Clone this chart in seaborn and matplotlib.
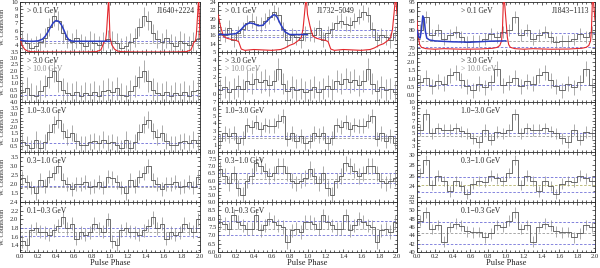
import numpy as np
import pandas as pd
import matplotlib
matplotlib.use("Agg")
import matplotlib.pyplot as plt
from matplotlib.ticker import MultipleLocator, AutoMinorLocator, FuncFormatter
import seaborn as sns

# ---------- data (one rotation, drawn twice) ----------
energy_labels = ["> 0.1 GeV", "> 3.0 GeV", "1.0\u22123.0 GeV", "0.3\u22121.0 GeV", "0.1\u22120.3 GeV"]
pulsars = ["J1640+2224", "J1732\u22125049", "J1843\u22121113"]

# J1640+2224, 20 bins per rotation
j1640_all = [4.6, 4.3, 3.6, 3.9, 4.4, 5.0, 6.5, 8.0, 7.4, 5.6, 4.8, 4.4, 4.9, 4.2, 3.9, 4.6, 4.3, 4.0, 4.5, 4.8]
j1640_3gev = [0.3, 0.6, 0.1, 0.0, 0.4, 0.8, 1.5, 2.0, 1.2, 0.5, 0.2, 0.1, 0.3, 0.0, 0.2, 0.1, 0.3, 0.0, 0.4, 0.5]
j1640_1to3 = [0.8, 0.6, 0.3, 1.0, 0.3, 0.8, 1.6, 2.2, 2.6, 1.7, 1.2, 1.5, 0.9, 0.6, 0.6, 0.8, 0.9, 0.7, 1.0, 0.7]
j1640_03to1 = [2.3, 2.1, 1.8, 1.5, 2.2, 1.9, 2.4, 2.6, 3.0, 2.2, 2.0, 1.7, 2.0, 2.0, 2.1, 1.8, 1.9, 2.1, 1.8, 2.4]
j1640_01to03 = [1.5, 1.42, 1.75, 1.8, 1.72, 1.7, 1.65, 1.75, 1.85, 2.05, 1.8, 1.9, 1.55, 1.7, 1.65, 1.7, 1.9, 1.8, 1.72, 2.0]

# J1732-5049, 20 bins per rotation
j1732_all = [16.5, 16.2, 17.8, 15.0, 16.5, 17.5, 19.0, 19.5, 18.8, 18.5, 19.5, 20.5, 21.5, 21.0, 17.5, 15.0, 16.0, 15.5, 14.8, 16.5]
j1732_3gev = [0.4, 0.8, 0.2, 0.6, 0.9, 0.5, 1.5, 1.2, 1.8, 1.4, 1.6, 1.0, 1.5, 3.0, 1.2, 0.3, 0.8, 0.4, 0.6, 0.2]
j1732_1to3 = [1.5, 2.6, 2.3, 2.7, 1.3, 2.0, 3.8, 3.5, 4.2, 3.2, 3.8, 3.6, 3.7, 4.3, 5.0, 1.8, 2.6, 1.5, 2.2, 1.3]
j1732_03to1 = [6.8, 6.3, 5.8, 6.5, 5.5, 5.0, 6.0, 6.3, 7.2, 7.0, 6.7, 6.3, 6.5, 7.0, 7.0, 6.5, 6.0, 5.8, 6.0, 6.2]
j1732_01to03 = [7.8, 7.7, 7.4, 8.2, 7.8, 7.6, 7.4, 7.4, 8.2, 7.3, 7.6, 8.0, 7.8, 7.6, 7.5, 6.6, 7.3, 7.4, 7.2, 7.8]

# J1843-1113, 15 bins per rotation
j1843_all = [80.0, 87.0, 77.0, 80.0, 75.0, 77.0, 79.0, 76.0, 73.5, 74.0, 74.0, 75.0, 77.5, 76.0, 79.0]
j1843_3gev = [0.8, 1.05, 0.55, 0.85, 0.7, 1.2, 1.4, 0.9, 0.55, 0.3, 0.7, 0.5, 0.8, 1.6, 0.6]
j1843_1to3 = [5.5, 8.0, 5.0, 5.8, 5.5, 5.6, 5.8, 5.3, 5.0, 4.2, 3.6, 5.6, 4.0, 5.2, 5.0]
j1843_03to1 = [26.5, 29.0, 24.2, 26.0, 25.0, 23.0, 25.0, 24.0, 22.5, 24.5, 25.0, 24.8, 26.0, 25.5, 25.0]
j1843_01to03 = [47.5, 49.5, 45.5, 46.5, 42.5, 46.0, 46.8, 46.3, 45.0, 44.7, 44.8, 43.5, 44.5, 46.5, 46.0]

# typical error bar half-length per panel (top to bottom)
j1640_err = [1.3, 0.9, 0.65, 0.38, 0.15]
j1732_err = [1.8, 1.3, 1.0, 0.55, 0.4]
j1843_err = [3.2, 0.45, 0.9, 1.0, 1.3]

# dashed background levels per panel
j1640_levels = [[4.6, 4.2], [0.1], [0.75], [1.9, 1.8], [1.8, 1.7, 1.62]]
j1732_levels = [[17.2, 16.2, 15.5], [0.5], [2.2, 2.0], [6.5, 6.1, 5.8], [7.85, 7.4, 7.05]]
j1843_levels = [[78.5, 74.0, 70.5], [0.65], [5.0, 4.6], [25.7, 24.2, 22.9], [47.3, 44.5, 42.0]]

# fitted light curve (> 0.1 GeV), one rotation
j1640_fit_phase = [0, 0.05, 0.1, 0.15, 0.2, 0.25, 0.28, 0.31, 0.34, 0.37, 0.4, 0.43, 0.46, 0.49, 0.52, 0.55, 0.6, 0.8, 1.0]
j1640_fit = [4.7, 4.55, 4.5, 4.5, 4.55, 4.8, 5.2, 5.8, 6.5, 7.1, 7.4, 7.3, 6.8, 6.0, 5.1, 4.6, 4.5, 4.5, 4.5]
j1732_fit_phase = [0, 0.1, 0.2, 0.25, 0.3, 0.35, 0.4, 0.45, 0.5, 0.55, 0.6, 0.63, 0.66, 0.7, 0.75, 0.8, 0.9, 1.0]
j1732_fit = [16.2, 16.2, 16.4, 17.2, 18.4, 19.0, 18.8, 18.3, 18.4, 19.5, 20.6, 21.0, 20.4, 18.6, 16.8, 16.2, 16.2, 16.2]
j1843_fit_phase = [0, 0.02, 0.035, 0.05, 0.065, 0.08, 0.095, 0.11, 0.14, 0.2, 0.4, 0.6, 0.8, 1.0]
j1843_fit = [80.0, 76.0, 75.5, 80.0, 87.5, 86.0, 79.0, 75.5, 74.5, 74.0, 73.5, 73.3, 73.8, 74.0]

# radio profile (scaled), one rotation
j1640_radio_phase = [0, 0.02, 0.05, 0.08, 0.12, 0.3, 0.5, 0.7, 0.85, 0.9, 0.93, 0.95, 0.96, 0.975, 0.985, 1.0]
j1640_radio = [5.0, 4.0, 3.4, 3.15, 3.05, 3.0, 3.0, 3.0, 3.05, 3.3, 4.3, 4.6, 5.5, 8.5, 10.5, 5.0]
j1732_radio_phase = [0, 0.03, 0.06, 0.1, 0.15, 0.2, 0.23, 0.26, 0.3, 0.4, 0.5, 0.6, 0.7, 0.75, 0.8, 0.85, 0.9, 0.93, 0.95, 0.97, 0.985, 1.0]
j1732_radio = [21.0, 18.0, 15.8, 15.3, 15.0, 14.8, 14.5, 12.7, 12.4, 12.6, 12.5, 12.4, 12.6, 13.0, 13.6, 14.0, 14.8, 15.5, 17.5, 22.0, 25.5, 21.0]
j1843_radio_phase = [0, 0.015, 0.03, 0.05, 0.1, 0.2, 0.3, 0.5, 0.7, 0.85, 0.9, 0.93, 0.95, 0.96, 0.97, 0.98, 1.0]
j1843_radio = [85.0, 76.0, 72.0, 70.5, 69.8, 69.5, 69.8, 69.5, 69.6, 70.0, 70.5, 71.5, 74.0, 80.0, 95.0, 97.0, 85.0]

j1640_ylim = [(3, 10), (-0.5, 3.5), (0, 4), (1.0, 3.75), (1.25, 2.4)]
j1732_ylim = [(12, 24), (-1, 5), (0, 7), (4.5, 8.0), (6.0, 9.0)]
j1843_ylim = [(68, 95), (-0.4, 2.6), (2, 10), (21, 30.5), (40, 52)]
j1640_ystep = [1, 0.5, 0.5, 0.5, 0.2]
j1732_ystep = [2, 1, 1, 0.5, 0.5]
j1843_ystep = [5, 0.5, 1, 2, 2]

columns = [
    dict(name=pulsars[0], hist=[j1640_all, j1640_3gev, j1640_1to3, j1640_03to1, j1640_01to03],
         err=j1640_err, levels=j1640_levels, fit=(j1640_fit_phase, j1640_fit),
         radio=(j1640_radio_phase, j1640_radio), ylim=j1640_ylim, ystep=j1640_ystep,
         left=20, width=180, label_x=0.04, name_x=0.97, name_ha="right"),
    dict(name=pulsars[1], hist=[j1732_all, j1732_3gev, j1732_1to3, j1732_03to1, j1732_01to03],
         err=j1732_err, levels=j1732_levels, fit=(j1732_fit_phase, j1732_fit),
         radio=(j1732_radio_phase, j1732_radio), ylim=j1732_ylim, ystep=j1732_ystep,
         left=218, width=179, label_x=0.04, name_x=0.55, name_ha="left"),
    dict(name=pulsars[2], hist=[j1843_all, j1843_3gev, j1843_1to3, j1843_03to1, j1843_01to03],
         err=j1843_err, levels=j1843_levels, fit=(j1843_fit_phase, j1843_fit),
         radio=(j1843_radio_phase, j1843_radio), ylim=j1843_ylim, ystep=j1843_ystep,
         left=417, width=178, label_x=0.25, name_x=0.97, name_ha="right"),
]

sns.set_style("ticks")
plt.rcParams["font.family"] = ["Liberation Serif", "DejaVu Serif"]

W, H = 600, 268
fig = plt.figure(figsize=(6.0, 2.68), dpi=100)
row_top, row_h = 2, 50

hist_color = "#555555"
err_color = "#8c8c8c"
blue = "#2a3cc4"
red = "#e3262b"
dash_colors = ["#6b6bd6", "#9a9a9a", "#7272d8"]


def two_cycles(phase, values):
    phase = np.asarray(phase, dtype=float)
    values = np.asarray(values, dtype=float)
    return np.concatenate([phase, phase[1:] + 1]), np.concatenate([values, values[1:]])


def tick_formatter(step, ymin, hide_bottom):
    digits = 0 if step >= 1 else 1

    def fmt(v, pos):
        if hide_bottom and abs(v - ymin) < 1e-9:
            return ""
        return f"{v:.{digits}f}"
    return FuncFormatter(fmt)


for col in columns:
    for r in range(5):
        bottom = H - (row_top + (r + 1) * row_h)
        ax = fig.add_axes([col["left"] / W, bottom / H, col["width"] / W, row_h / H])
        vals = np.tile(col["hist"][r], 2)
        n = len(vals)
        edges = np.linspace(0, 2, n + 1)
        centers = 0.5 * (edges[:-1] + edges[1:])

        # dashed background levels
        lv = col["levels"][r]
        for i, level in enumerate(lv):
            c = dash_colors[i % 3] if len(lv) > 1 else dash_colors[0]
            if col["name"] == pulsars[2] and r == 3 and i == 1:
                c = "#b3b36a"
            ax.axhline(level, color=c, ls="--", lw=0.6, dashes=(3, 2), zorder=1)

        ax.errorbar(centers, vals, yerr=col["err"][r], fmt="none",
                    ecolor=err_color, elinewidth=0.5, zorder=2)
        step = pd.DataFrame({"phase": np.append(edges[:-1], 2.0),
                             "counts": np.append(vals, vals[-1])})
        sns.lineplot(data=step, x="phase", y="counts", drawstyle="steps-post",
                     color=hist_color, lw=0.6, ax=ax, zorder=3)

        if r == 0:
            rx, ry = two_cycles(*col["radio"])
            sns.lineplot(x=rx, y=ry, color=red, lw=0.8, ax=ax, sort=False, zorder=4)
            fx, fy = col["fit"]
            sns.lineplot(x=fx, y=fy, color=blue, lw=1.1, ax=ax, sort=False, zorder=5)
            ax.text(col["name_x"], 0.9, col["name"], transform=ax.transAxes,
                    ha=col["name_ha"], va="top", fontsize=5.5)

        ax.text(col["label_x"], 0.9, energy_labels[r], transform=ax.transAxes,
                ha="left", va="top", fontsize=5.5)
        if r == 1:
            ax.text(col["label_x"], 0.74, "> 10.0 GeV", transform=ax.transAxes,
                    ha="left", va="top", fontsize=5.5, color="#8a8a8a")

        ylo, yhi = col["ylim"][r]
        ax.set_xlim(0, 2)
        ax.set_ylim(ylo, yhi)
        ax.xaxis.set_major_locator(MultipleLocator(0.2))
        ax.xaxis.set_minor_locator(MultipleLocator(0.05))
        ax.yaxis.set_major_locator(MultipleLocator(col["ystep"][r]))
        ax.yaxis.set_minor_locator(AutoMinorLocator(2))
        ax.yaxis.set_major_formatter(tick_formatter(col["ystep"][r], ylo, r < 4))
        ax.tick_params(which="both", direction="in", top=True, right=True,
                       labelsize=4.8, width=0.5, pad=1.2)
        ax.tick_params(which="major", length=2.5)
        ax.tick_params(which="minor", length=1.3)
        for s in ax.spines.values():
            s.set_linewidth(0.6)

        if col["name"] == pulsars[0]:
            ax.set_ylabel("W. Counts/bin", fontsize=4.5)
            ax.yaxis.set_label_coords(-0.085, 0.5)
        else:
            ax.set_ylabel("")
        if r == 4:
            ax.set_xlabel("Pulse Phase", fontsize=6, labelpad=0.5)
        else:
            ax.set_xlabel("")
            ax.set_xticklabels([])

fig.savefig("out.png", dpi=100)
